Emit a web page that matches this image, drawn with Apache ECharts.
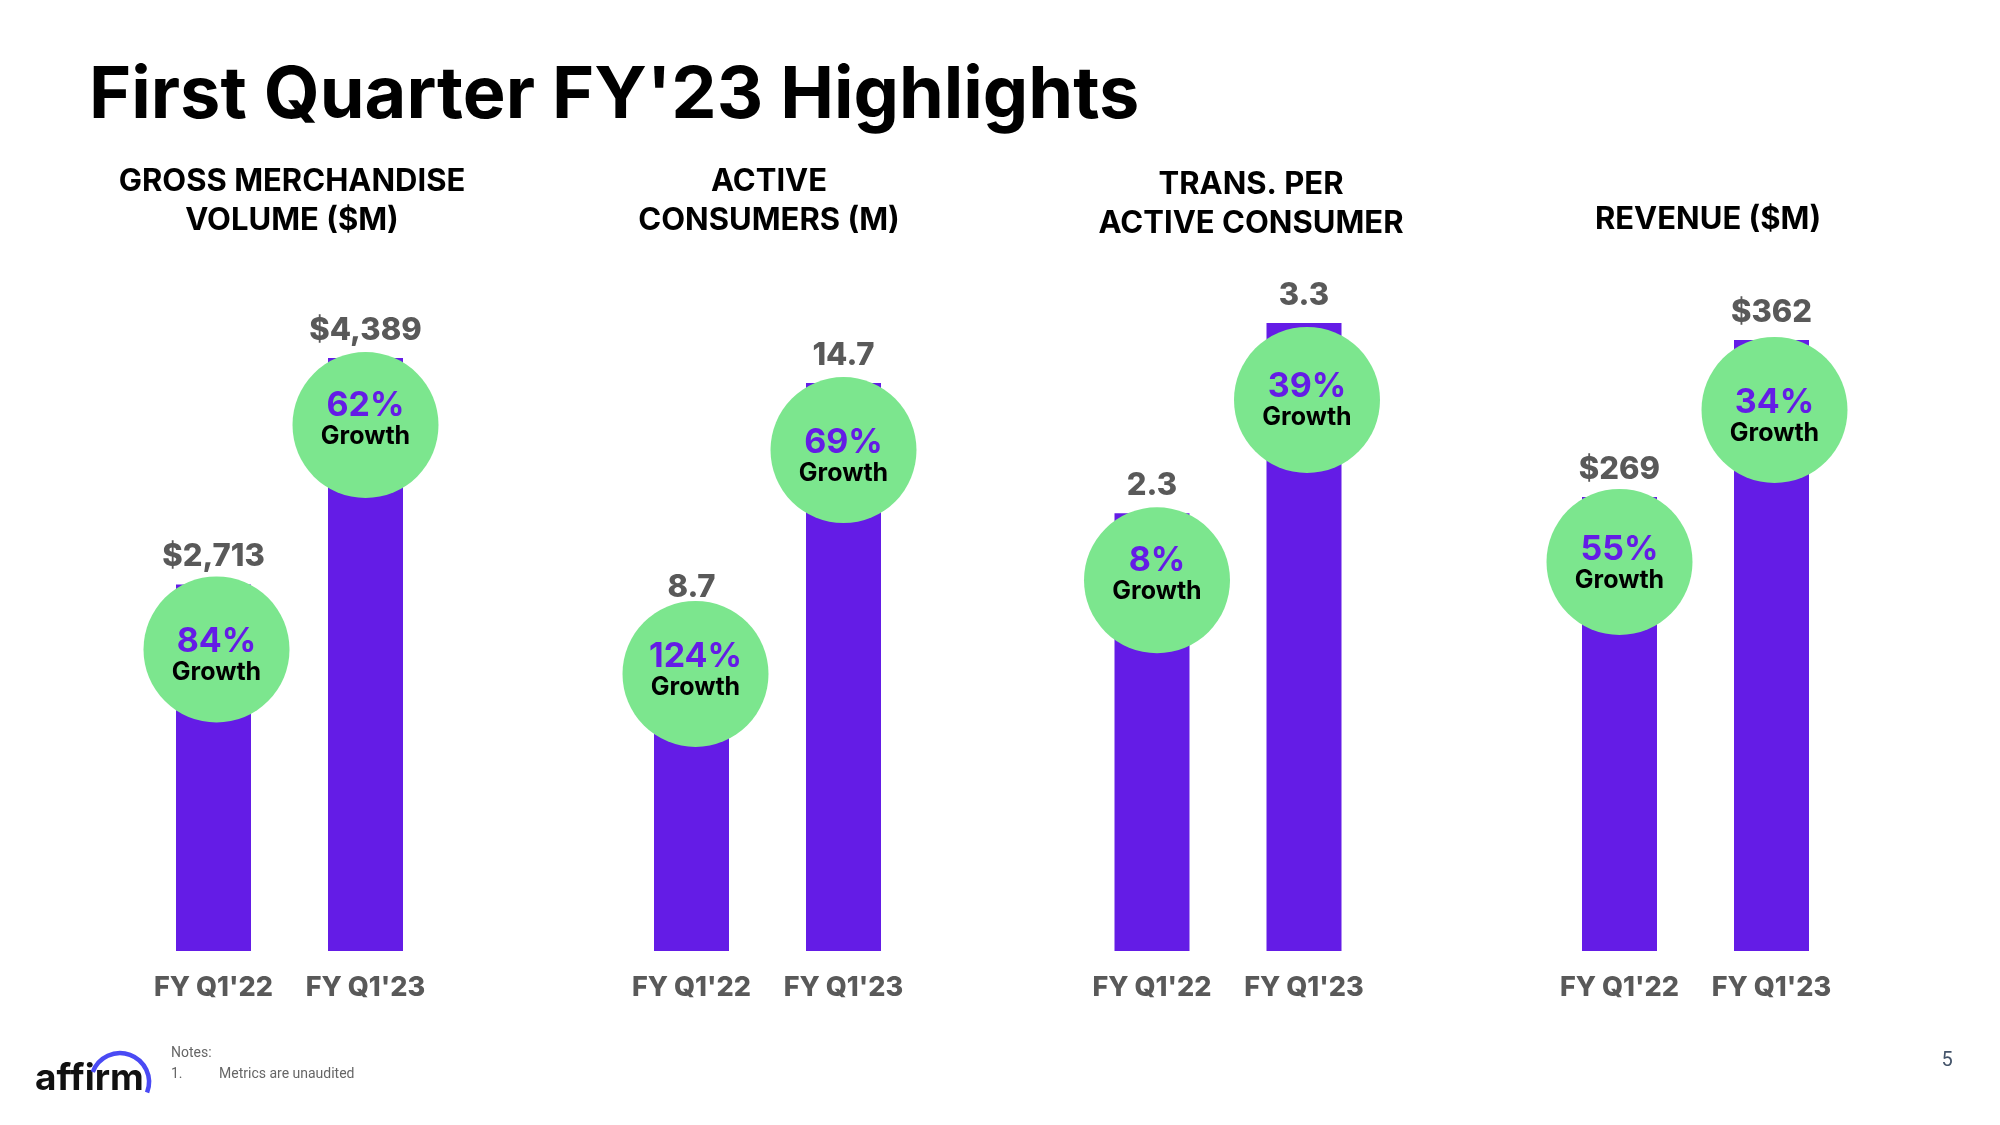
<!DOCTYPE html>
<html>
<head>
<meta charset="utf-8">
<script src="https://cdn.jsdelivr.net/npm/echarts@6/dist/echarts.min.js"></script>
<style>
  html, body { margin: 0; padding: 0; background: #fff; }
  #chart { width: 2000px; height: 1125px; }
</style>
</head>
<body>
<div id="chart"></div>
<script>
// ---- data ----
const categories = ["FY Q1'22", "FY Q1'23"];
const panelTitles = [
  "GROSS MERCHANDISE\nVOLUME ($M)",
  "ACTIVE\nCONSUMERS (M)",
  "TRANS. PER\nACTIVE CONSUMER",
  "REVENUE ($M)"
];
const gmvValues = [2713, 4389];
const consumerValues = [8.7, 14.7];
const transValues = [2.3, 3.3];
const revenueValues = [269, 362];
const gmvGrowth = ["84%", "62%"];
const consumerGrowth = ["124%", "69%"];
const transGrowth = ["8%", "39%"];
const revenueGrowth = ["55%", "34%"];
const valuePrefix = ["$", "", "", "$"];
const valueDecimals = [0, 1, 1, 0];

// ---- layout / style ----
const FONT = 'Inter';
const PURPLE = '#641CE6';
const GREEN = '#7CE68E';
const GRAY = '#595959';
const panelValues = [gmvValues, consumerValues, transValues, revenueValues];
const panelGrowth = [gmvGrowth, consumerGrowth, transGrowth, revenueGrowth];
const panelMax = [5181, 18.12, 3.678, 414.7];
const gridLefts = [137.5, 615.5, 1076, 1543.5];
const titleCenters = [292, 769, 1251, 1708];
const titleTops = [162, 162, 165, 200];
// circle placement relative to each bar top (pixels)
const circleShift = [
  [[3, 65], [0, 67]],
  [[4, 59], [0, 67]],
  [[5, 67], [3, 77]],
  [[0, 65], [3, 70]]
];
// vertical nudge of the text inside each circle (pixels)
const textShift = [[8, -4], [-2, 8], [-4, 2], [3, 8]];

function fmt(v, i) {
  const s = valueDecimals[i] > 0 ? v.toFixed(valueDecimals[i]) : v.toLocaleString('en-US');
  return valuePrefix[i] + s;
}

const grids = [], xAxes = [], yAxes = [], series = [];
panelValues.forEach((vals, i) => {
  grids.push({ left: gridLefts[i], width: 304, top: 251, height: 700 });
  xAxes.push({
    type: 'category', gridIndex: i, data: categories,
    axisLine: { show: false }, axisTick: { show: false },
    axisLabel: { interval: 0, fontFamily: FONT, fontWeight: 800, fontSize: 27, color: GRAY, margin: 23 }
  });
  yAxes.push({ type: 'value', gridIndex: i, min: 0, max: panelMax[i], show: false, splitLine: { show: false } });
  series.push({
    type: 'bar', xAxisIndex: i, yAxisIndex: i, data: vals, barWidth: 75,
    itemStyle: { color: PURPLE },
    label: {
      show: true, position: 'top', distance: 12,
      fontFamily: FONT, fontWeight: 800, fontSize: 31, color: GRAY,
      formatter: p => fmt(p.value, i)
    },
    z: 2
  });
  series.push({
    type: 'scatter', xAxisIndex: i, yAxisIndex: i,
    data: vals.map((v, k) => ({
      value: v,
      symbolOffset: circleShift[i][k],
      label: { offset: [0, textShift[i][k]] }
    })),
    symbol: 'circle', symbolSize: 146,
    itemStyle: { color: GREEN, opacity: 1 },
    label: {
      show: true, position: 'inside',
      formatter: p => '{p|' + panelGrowth[i][p.dataIndex] + '}\n{g|Growth}',
      rich: {
        p: { fontFamily: FONT, fontWeight: 700, fontSize: 34, color: PURPLE, lineHeight: 31 },
        g: { fontFamily: FONT, fontWeight: 700, fontSize: 25, color: '#000', lineHeight: 31 }
      }
    },
    emphasis: { disabled: true },
    z: 3, silent: true
  });
});

const graphics = [
  { type: 'text', left: 89, top: 60, style: { text: "First Quarter FY'23 Highlights", font: '700 72px ' + FONT, fill: '#000' } }
];
panelTitles.forEach((t, i) => {
  graphics.push({
    type: 'text', x: titleCenters[i], y: titleTops[i],
    style: { text: t, font: '700 31px ' + FONT, fill: '#000', textAlign: 'center', textVerticalAlign: 'top', lineHeight: 39 }
  });
});
graphics.push(
  { type: 'text', x: 35, y: 1097, style: { text: 'affirm', font: '700 37px ' + FONT, fill: '#111', textVerticalAlign: 'bottom' } },
  { type: 'arc', shape: { cx: 120, cy: 1082, r: 29, startAngle: -2.79, endAngle: 0.37, clockwise: true },
    style: { stroke: '#4A4AF4', lineWidth: 4.5, fill: null } },
  { type: 'text', x: 171, y: 1053, style: { text: 'Notes:', font: '400 14px Roboto', fill: '#666', textVerticalAlign: 'middle' } },
  { type: 'text', x: 171, y: 1074, style: { text: '1.', font: '400 14px Roboto', fill: '#666', textVerticalAlign: 'middle' } },
  { type: 'text', x: 219, y: 1074, style: { text: 'Metrics are unaudited', font: '400 14px Roboto', fill: '#666', textVerticalAlign: 'middle' } },
  { type: 'text', x: 1947, y: 1061, style: { text: '5', font: '400 20px Roboto', fill: '#44546A', textAlign: 'center', textVerticalAlign: 'middle' } }
);

const chart = echarts.init(document.getElementById('chart'), null, { renderer: 'canvas' });
chart.setOption({
  backgroundColor: '#fff',
  animation: false,
  grid: grids, xAxis: xAxes, yAxis: yAxes, series: series,
  graphic: graphics
});
</script>
</body>
</html>
